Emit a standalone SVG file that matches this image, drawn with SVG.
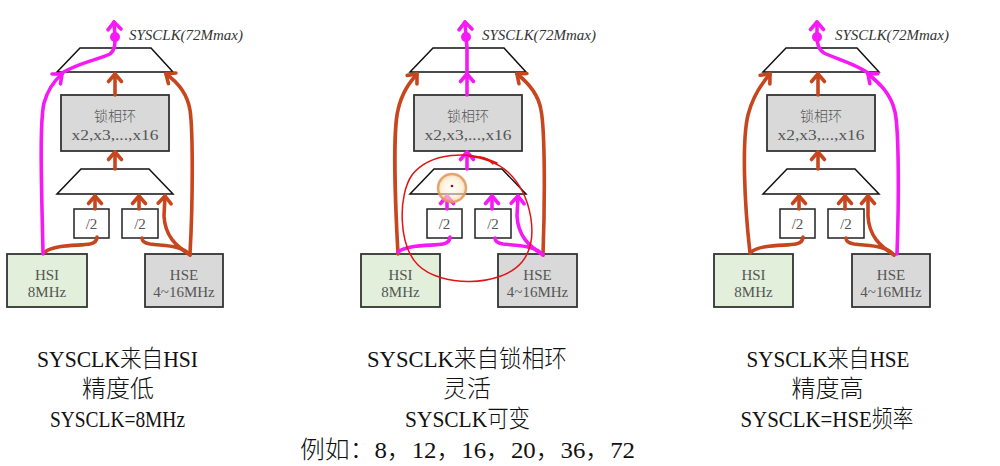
<svg xmlns="http://www.w3.org/2000/svg" width="1000" height="466" viewBox="0 0 1000 466">
<style>
.bg{fill:#ffffff}
.mux{fill:#ffffff;stroke:#111;stroke-width:1.5}
.pll{fill:#d9d9d9;stroke:#333;stroke-width:1.8}
.hsi{fill:#e2efda;stroke:#333;stroke-width:1.8}
.hse{fill:#d9d9d9;stroke:#333;stroke-width:1.8}
.div{fill:#ffffff;stroke:#222;stroke-width:1.5}
.bt{font-family:"Liberation Serif","Noto Sans CJK SC",serif;font-size:15px;fill:#555;text-anchor:middle}
.cjk{font-family:"Noto Sans CJK SC",sans-serif;font-size:14px;font-weight:300;fill:#555;text-anchor:middle}
.lbl{font-family:"Liberation Serif",serif;font-style:italic;font-size:15px;fill:#333}
.cap{font-family:"Liberation Serif","Noto Sans CJK SC",serif;font-size:24px;font-weight:300;fill:#111;text-anchor:middle}
.o{fill:none;stroke:#c8461e;stroke-width:3.6;stroke-linecap:round;stroke-linejoin:round}
.m{fill:none;stroke:#f51af5;stroke-width:3.6;stroke-linecap:round;stroke-linejoin:round}
.oa{marker-end:url(#ah-o)}
.ma{marker-end:url(#ah-m)}
</style>
<defs>
<marker id="ah-o" markerUnits="userSpaceOnUse" markerWidth="20" markerHeight="20" viewBox="-10 -10 20 20" refX="0" refY="0" orient="auto" overflow="visible">
<path d="M-7.5,-6.5 L0,0 L-7.5,6.5" fill="none" stroke="#c8461e" stroke-width="3.6" stroke-linecap="round" stroke-linejoin="round"/>
</marker>
<marker id="ah-m" markerUnits="userSpaceOnUse" markerWidth="20" markerHeight="20" viewBox="-10 -10 20 20" refX="0" refY="0" orient="auto" overflow="visible">
<path d="M-7.5,-6.5 L0,0 L-7.5,6.5" fill="none" stroke="#f51af5" stroke-width="3.6" stroke-linecap="round" stroke-linejoin="round"/>
</marker>
<radialGradient id="hl" cx="0.5" cy="0.5" r="0.5">
<stop offset="0" stop-color="#ffffff" stop-opacity="0.6"/>
<stop offset="0.7" stop-color="#fde9c8" stop-opacity="0.6"/>
<stop offset="1" stop-color="#f3c48e" stop-opacity="0.7"/>
</radialGradient>
</defs>
<rect class="bg" x="0" y="0" width="1000" height="466"/>

<!-- LEFT DIAGRAM NODES -->
<g id="left">
<g id="left-mux2"><polygon class="mux" points="80,48 151,48 173,72 57,72"/></g>
<g id="left-pll"><rect class="pll" x="61" y="95" width="108" height="56"/><text class="cjk" x="115" y="121">锁相环</text><text class="bt" x="115" y="140" textLength="87" lengthAdjust="spacingAndGlyphs">x2,x3,...,x16</text></g>
<g id="left-mux1"><polygon class="mux" points="81,169 149,169 173,194 57,194"/></g>
<g id="left-div1"><rect class="div" x="74" y="209" width="35" height="29"/><text class="bt" x="91.5" y="229">/2</text></g>
<g id="left-div2"><rect class="div" x="122" y="209" width="36" height="29"/><text class="bt" x="140" y="229">/2</text></g>
<g id="left-hsi"><rect class="hsi" x="7" y="254" width="80" height="53"/><text class="bt" x="47" y="280">HSI</text><text class="bt" x="47" y="297">8MHz</text></g>
<g id="left-hse"><rect class="hse" x="145" y="254" width="78" height="53"/><text class="bt" x="184" y="280">HSE</text><text class="bt" x="184" y="297">4~16MHz</text></g>
<g id="left-out"><text class="lbl" x="129" y="40" textLength="114" lengthAdjust="spacingAndGlyphs">SYSCLK(72Mmax)</text></g>
</g>

<!-- MIDDLE DIAGRAM NODES -->
<g id="middle" transform="translate(353,0)">
<g id="mid-mux2"><polygon class="mux" points="80,48 151,48 173,72 57,72"/></g>
<g id="mid-pll"><rect class="pll" x="61" y="95" width="108" height="56"/><text class="cjk" x="115" y="121">锁相环</text><text class="bt" x="115" y="140" textLength="87" lengthAdjust="spacingAndGlyphs">x2,x3,...,x16</text></g>
<g id="mid-mux1"><polygon class="mux" points="81,169 149,169 173,194 57,194"/></g>
<g id="mid-div1"><rect class="div" x="74" y="209" width="35" height="29"/><text class="bt" x="91.5" y="229">/2</text></g>
<g id="mid-div2"><rect class="div" x="122" y="209" width="36" height="29"/><text class="bt" x="140" y="229">/2</text></g>
<g id="mid-hsi"><rect class="hsi" x="8" y="254" width="79" height="53"/><text class="bt" x="47.5" y="280">HSI</text><text class="bt" x="47.5" y="297">8MHz</text></g>
<g id="mid-hse"><rect class="hse" x="145" y="254" width="79" height="53"/><text class="bt" x="184.5" y="280">HSE</text><text class="bt" x="184.5" y="297">4~16MHz</text></g>
<g id="mid-out"><text class="lbl" x="129" y="40" textLength="114" lengthAdjust="spacingAndGlyphs">SYSCLK(72Mmax)</text></g>
</g>

<!-- RIGHT DIAGRAM NODES -->
<g id="right" transform="translate(706,0)">
<g id="right-mux2"><polygon class="mux" points="80,48 151,48 173,72 57,72"/></g>
<g id="right-pll"><rect class="pll" x="61" y="95" width="108" height="56"/><text class="cjk" x="115" y="121">锁相环</text><text class="bt" x="115" y="140" textLength="87" lengthAdjust="spacingAndGlyphs">x2,x3,...,x16</text></g>
<g id="right-mux1"><polygon class="mux" points="81,169 149,169 173,194 57,194"/></g>
<g id="right-div1"><rect class="div" x="74" y="209" width="35" height="29"/><text class="bt" x="91.5" y="229">/2</text></g>
<g id="right-div2"><rect class="div" x="122" y="209" width="36" height="29"/><text class="bt" x="140" y="229">/2</text></g>
<g id="right-hsi"><rect class="hsi" x="8" y="254" width="79" height="53"/><text class="bt" x="47.5" y="280">HSI</text><text class="bt" x="47.5" y="297">8MHz</text></g>
<g id="right-hse"><rect class="hse" x="146" y="254" width="78" height="53"/><text class="bt" x="185" y="280">HSE</text><text class="bt" x="185" y="297">4~16MHz</text></g>
<g id="right-out"><text class="lbl" x="129" y="40" textLength="114" lengthAdjust="spacingAndGlyphs">SYSCLK(72Mmax)</text></g>
</g>

<!-- CONNECTORS -->
<g id="connectors">
<g id="conn-left">
<path class="o" d="M45,252 C55,244 80,246 90,244 C95,243 97,240 97,237"/>
<path class="o oa" d="M95,209 L95,196"/>
<path class="o oa" d="M139,209 L139,196"/>
<path class="o" d="M190,255 C182,245 165,246 150,244 C144,243 142,241 142,238"/>
<path class="o oa" d="M190,255 C176,246 165,236 164,216 L165,196"/>
<path class="o oa" d="M190,254 C193,200 193,130 190,110 C187,92 176,81 166,74"/>
<path class="o oa" d="M115,169 L115,152"/>
<path class="o oa" d="M115,95 L115,74"/>
<path class="m ma" d="M43,254 C42,200 39,125 44,103 C48,89 55,80 62,74"/>
<path class="m" d="M62,73 C78,63 100,59 110,54 C115,50 115,45 115,37"/>
<path class="m ma" d="M115,37 L114,22"/>
<circle cx="115" cy="37" r="5" fill="#f51af5"/>
</g>
<g id="conn-mid" transform="translate(353,0)">
<path class="o oa" d="M45,254 C42,200 40,130 45,110 C49,92 57,82 64,74"/>
<path class="o oa" d="M190,255 C192,200 192,130 188,110 C185,92 173,81 164,74"/>
<path class="m" d="M45,252 C55,244 80,246 90,244 C95,243 97,240 97,237"/>
<path class="m ma" d="M94,209 L94,196"/>
<path class="m ma" d="M139,209 L139,196"/>
<path class="m" d="M190,255 C182,245 165,246 150,244 C144,243 142,241 142,238"/>
<path class="m ma" d="M190,255 C176,246 165,236 164,216 L165,196"/>
<path class="m ma" d="M114,169 L114,152"/>
<path class="m ma" d="M114,95 L114,74"/>
<path class="m" d="M114,74 L114,48 L113,37"/>
<path class="m ma" d="M113,37 L112,22"/>
<circle cx="113" cy="37" r="5" fill="#f51af5"/>
</g>
<g id="conn-right" transform="translate(706,0)">
<path class="o oa" d="M44,253 C38,200 36,140 42,115 C47,95 56,83 64,74"/>
<path class="o" d="M45,252 C55,244 80,246 90,244 C95,243 97,240 97,237"/>
<path class="o oa" d="M93,209 L93,196"/>
<path class="o oa" d="M139,209 L139,196"/>
<path class="o" d="M188,255 C180,245 163,246 148,244 C142,243 140,241 140,238"/>
<path class="o oa" d="M188,255 C174,246 163,236 162,216 L162,196"/>
<path class="o oa" d="M112,169 L112,152"/>
<path class="o oa" d="M112,95 L112,74"/>
<path class="m ma" d="M191,254 C193,200 193,130 189,112 C185,93 172,82 162,74"/>
<path class="m" d="M162,73 C150,64 128,58 118,53 C113,50 111,45 111,37"/>
<path class="m ma" d="M111,37 L111,22"/>
<circle cx="111" cy="37" r="5" fill="#f51af5"/>
</g>
</g>

<!-- ANNOTATIONS (hand-drawn) -->
<g id="annotations">
<path d="M497,163 C470,150 430,152 412,175 C398,195 398,245 418,265 C440,287 500,288 522,262 C540,240 532,195 508,172 C500,165 488,158 468,156" fill="none" stroke="#e01414" stroke-width="1.5" stroke-linecap="round"/>
<path d="M480,157 Q488,158 493,164" fill="none" stroke="#e01414" stroke-width="1.5" stroke-linecap="round"/>
<circle cx="452" cy="188" r="14" fill="url(#hl)" stroke="#e0985a" stroke-width="2.5" stroke-opacity="0.85"/>
<circle cx="452" cy="186" r="1.3" fill="#8a1010"/>
</g>

<!-- CAPTIONS -->
<g id="captions">
<text class="cap" x="117.5" y="367" textLength="161" lengthAdjust="spacingAndGlyphs">SYSCLK来自HSI</text>
<text class="cap" x="118" y="397">精度低</text>
<text class="cap" x="117.5" y="427" textLength="135" lengthAdjust="spacingAndGlyphs">SYSCLK=8MHz</text>
<text class="cap" x="467" y="367" textLength="200" lengthAdjust="spacingAndGlyphs">SYSCLK来自锁相环</text>
<text class="cap" x="467" y="397">灵活</text>
<text class="cap" x="467.5" y="427" textLength="125" lengthAdjust="spacingAndGlyphs">SYSCLK可变</text>
<text class="cap" x="467.5" y="458" textLength="335" lengthAdjust="spacingAndGlyphs">例如：8，12，16，20，36，72</text>
<text class="cap" x="828" y="367" textLength="163" lengthAdjust="spacingAndGlyphs">SYSCLK来自HSE</text>
<text class="cap" x="827.5" y="397">精度高</text>
<text class="cap" x="827" y="427" textLength="173" lengthAdjust="spacingAndGlyphs">SYSCLK=HSE频率</text>
</g>
</svg>
